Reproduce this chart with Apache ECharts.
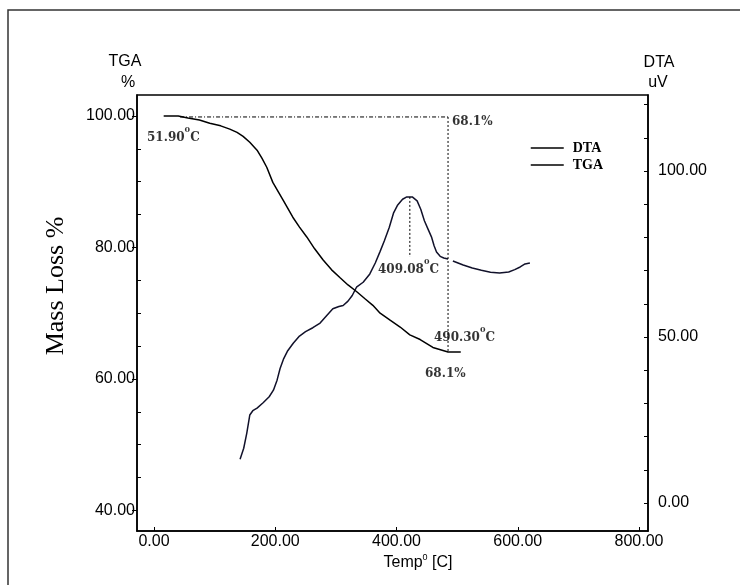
<!DOCTYPE html>
<html style="height: 100%">
<head>
<meta charset="utf-8">
</head>
<body style="height: 100%; margin: 0; background: #fff">
<div id="container" style="width: 740px; height: 585px"></div>
<script src="https://cdn.jsdelivr.net/npm/echarts@6/dist/echarts.min.js"></script>
<script>
// temperature (C) vs mass (%) -- TGA curve
var tgaTemp = [16, 40, 56, 75, 92, 110, 125, 137, 147, 158, 170, 178, 186, 196, 213, 229, 240, 252, 265, 279, 293, 307, 320, 334, 348, 361, 373, 390, 406, 422, 439, 460, 485, 506];
var tgaMass = [100.0, 100.0, 99.7, 99.4, 98.9, 98.5, 98.0, 97.5, 96.9, 96.0, 94.8, 93.6, 92.2, 89.9, 87.2, 84.6, 83.1, 81.6, 79.8, 78.1, 76.6, 75.4, 74.3, 73.3, 72.2, 71.2, 70.0, 68.9, 67.9, 66.7, 66.0, 64.8, 64.1, 64.1];

// temperature (C) vs signal (uV) -- DTA curve, null = break in the trace
var dtaTemp = [142, 148, 153, 158, 163, 170, 180, 190, 197, 203, 208, 214, 220, 230, 240, 250, 262, 274, 285, 295, 305, 312, 320, 327, 334, 345, 356, 365, 373, 380, 388, 395, 402, 410, 417, 426, 434, 440, 446, 452, 458, 462, 466, 472, 478, 485, 489, 493, 510, 525, 540, 555, 570, 585, 595, 604, 612, 620];
var dtaSignal = [13.2, 16.5, 21.0, 26.5, 27.8, 28.6, 30.2, 32.0, 34.0, 37.0, 40.5, 43.5, 45.7, 48.2, 50.3, 51.6, 52.8, 54.2, 56.5, 58.5, 59.2, 59.5, 60.8, 62.5, 65.0, 66.5, 69.0, 72.3, 75.8, 79.0, 83.0, 87.3, 89.8, 91.5, 92.2, 92.2, 91.0, 88.5, 85.0, 82.5, 80.0, 77.5, 75.6, 74.3, 73.8, 73.5, null, 72.9, 71.7, 70.8, 70.1, 69.5, 69.3, 69.6, 70.3, 71.1, 72.0, 72.3];

// guide lines
var guideTop = [[43, 99.85], [485, 99.85]];
var guideEnd = [[485, 99.85], [485, 64.1]];
var guidePeak = [[422, 92.2], [422, 74.1]];

// annotations (temperature, mass %)
var noteText = ['51.90', '68.1%', '409.08', '490.30', '68.1%'];
var noteAt = [[-11.5, 97.1], [491.5, 99.5], [369.5, 77.0], [461.8, 66.7], [447, 61.2]];

// ticks
var xTicks = [0, 200, 400, 600, 800];
var tgaTicks = [40, 60, 80, 100];
var tgaMinor = [45, 50, 55, 65, 70, 75, 85, 90, 95];
var dtaLabels = [0, 50, 100];
var dtaTicks = [0, 10, 20, 30, 40, 50, 60, 70, 80, 90, 100, 110, 120];

function zip(a, b) {
    var out = [];
    for (var i = 0; i < a.length; i++) out.push([a[i], b[i]]);
    return out;
}

var sans = 'Liberation Sans, Arial, sans-serif';
var noteRich = {
    n: {fontFamily: 'DejaVu Serif', fontWeight: 'bold', fontSize: 12, color: '#000', lineHeight: 18, verticalAlign: 'bottom'},
    s: {fontFamily: 'DejaVu Serif', fontWeight: 'bold', fontSize: 8, color: '#000', verticalAlign: 'top'}
};

var chart = echarts.init(document.getElementById('container'));

var option = {
    animation: false,
    backgroundColor: '#fff',
    grid: {left: 137, right: 92, top: 95, bottom: 54, show: true, borderColor: '#000', borderWidth: 1.5},
    legend: {
        data: ['DTA', 'TGA'],
        orient: 'vertical',
        left: 530, top: 141, padding: 0,
        itemWidth: 33, itemHeight: 14, itemGap: 3,
        itemStyle: {opacity: 0},
        lineStyle: {color: '#000', width: 1.5},
        textStyle: {fontFamily: 'Liberation Serif', fontWeight: 'bold', fontSize: 14, color: '#000', padding: [0, 0, 0, 4]}
    },
    xAxis: {
        type: 'value', min: -28, max: 814.8,
        splitLine: {show: false},
        axisLine: {onZero: false, lineStyle: {color: '#000', width: 1.5}},
        axisTick: {inside: true, length: 4, customValues: xTicks, lineStyle: {color: '#000'}},
        axisLabel: {customValues: xTicks, margin: 3, fontFamily: sans, fontSize: 16, color: '#000',
            formatter: function (v) { return v.toFixed(2); }}
    },
    yAxis: [
        {
            type: 'value', min: 36.88, max: 103.19, position: 'left',
            splitLine: {show: false},
            axisLine: {show: true, onZero: false, lineStyle: {color: '#000', width: 1.5}},
            axisTick: {show: true, length: 5, customValues: tgaTicks, lineStyle: {color: '#000'}},
            axisLabel: {customValues: tgaTicks, margin: 2, fontFamily: sans, fontSize: 16, color: '#000',
                formatter: function (v) { return v.toFixed(2); }}
        },
        {
            type: 'value', min: -8.43, max: 122.9, position: 'right',
            splitLine: {show: false},
            axisLine: {show: true, onZero: false, lineStyle: {color: '#000', width: 1.5}},
            axisTick: {show: true, inside: true, length: 4, customValues: dtaTicks, lineStyle: {color: '#000'}},
            axisLabel: {customValues: dtaLabels, margin: 10, fontFamily: sans, fontSize: 16, color: '#000',
                formatter: function (v) { return v.toFixed(2); }}
        },
        {
            type: 'value', min: 36.88, max: 103.19, position: 'left', offset: 0,
            splitLine: {show: false},
            axisLine: {show: false, onZero: false},
            axisTick: {show: true, inside: true, length: 4, customValues: tgaMinor, lineStyle: {color: '#000'}},
            axisLabel: {show: false}
        }
    ],
    graphic: [
        {type: 'rect', shape: {x: 8, y: 10, width: 760, height: 600}, style: {fill: 'none', stroke: '#333', lineWidth: 1.5}, silent: true},
        {type: 'text', x: 125, y: 62, style: {text: 'TGA', font: '16px ' + sans, fill: '#000', align: 'center', verticalAlign: 'middle'}},
        {type: 'text', x: 128, y: 83, style: {text: '%', font: '16px ' + sans, fill: '#000', align: 'center', verticalAlign: 'middle'}},
        {type: 'text', x: 659, y: 63, style: {text: 'DTA', font: '16px ' + sans, fill: '#000', align: 'center', verticalAlign: 'middle'}},
        {type: 'text', x: 658, y: 83, style: {text: 'uV', font: '16px ' + sans, fill: '#000', align: 'center', verticalAlign: 'middle'}},
        {type: 'text', x: 56, y: 286, rotation: Math.PI / 2,
            style: {text: 'Mass Loss %', font: '26px Liberation Serif, serif', fill: '#000', align: 'center', verticalAlign: 'middle'}},
        {type: 'text', x: 418, y: 562,
            style: {
                text: '{t|Temp}{s|0}{t| [C]}', align: 'center', verticalAlign: 'middle',
                rich: {
                    t: {fontFamily: sans, fontSize: 16, fill: '#000', lineHeight: 18, verticalAlign: 'bottom'},
                    s: {fontFamily: sans, fontSize: 9, fill: '#000', verticalAlign: 'top'}
                }
            }}
    ],
    series: [
        {
            name: 'DTA', type: 'line', yAxisIndex: 1, showSymbol: false, symbol: 'none',
            connectNulls: false,
            lineStyle: {color: '#11112a', width: 1.5}, itemStyle: {color: '#11112a'},
            data: zip(dtaTemp, dtaSignal)
        },
        {
            name: 'TGA', type: 'line', yAxisIndex: 0, showSymbol: false, symbol: 'none',
            lineStyle: {color: '#000', width: 1.5}, itemStyle: {color: '#000'},
            data: zip(tgaTemp, tgaMass)
        },
        {
            name: 'guideTop', type: 'line', yAxisIndex: 0, symbol: 'none', silent: true,
            lineStyle: {color: '#000', width: 1, type: [4, 2, 1, 2]},
            data: guideTop
        },
        {
            name: 'guideEnd', type: 'line', yAxisIndex: 0, symbol: 'none', silent: true,
            lineStyle: {color: '#000', width: 1, type: [2, 2]},
            data: guideEnd
        },
        {
            name: 'guidePeak', type: 'line', yAxisIndex: 1, symbol: 'none', silent: true,
            lineStyle: {color: '#000', width: 1, type: [2, 2]},
            data: guidePeak
        },
        {
            name: 'notes', type: 'scatter', yAxisIndex: 0, symbolSize: 0, silent: true,
            data: noteAt.map(function (p, i) { return {value: p, text: noteText[i]}; }),
            label: {
                show: true, position: 'inside', align: 'left', verticalAlign: 'middle',
                formatter: function (p) {
                    var t = p.data.text;
                    if (t.indexOf('%') >= 0) return '{n|' + t + '}';
                    return '{n|' + t + '}{s|0}{n|C}';
                },
                rich: noteRich
            }
        }
    ]
};

chart.setOption(option);
</script>
</body>
</html>
